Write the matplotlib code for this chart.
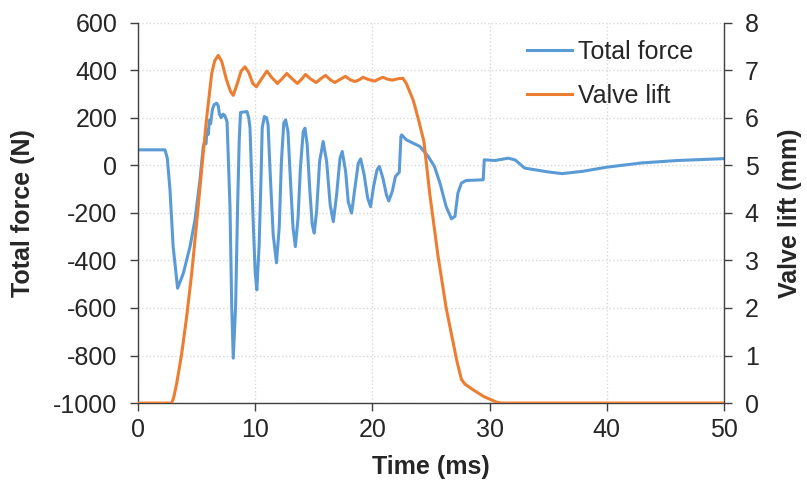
import matplotlib.pyplot as plt

plt.rcParams['font.family'] = ['Liberation Sans', 'DejaVu Sans']
plt.rcParams['axes.unicode_minus'] = False

# Total force (N) vs time (ms)
force_t = [0, 2.3, 2.5, 2.73, 3.0, 3.38, 3.87, 4.44, 4.86, 5.29, 5.57, 5.7, 5.8, 5.9, 6.0, 6.1,
           6.2, 6.35, 6.5, 6.71, 6.85, 6.95, 7.1, 7.25, 7.4, 7.6, 7.85, 8.0, 8.13, 8.33, 8.5,
           8.64, 8.75, 9.3, 9.45, 9.56, 9.7, 9.85, 10.0, 10.14, 10.34, 10.5, 10.6, 10.78,
           10.97, 11.1, 11.3, 11.54, 11.82, 12.05, 12.24, 12.44, 12.6, 12.8, 13.0, 13.23,
           13.43, 13.66, 13.86, 14.1, 14.25, 14.44, 14.67, 14.87, 15.04, 15.24, 15.5, 15.8,
           16.1, 16.4, 16.67, 16.95, 17.24, 17.43, 17.72, 17.94, 18.23, 18.51, 18.8, 19.0,
           19.3, 19.6, 19.85, 20.1, 20.4, 20.6, 20.9, 21.2, 21.4, 21.7, 21.97, 22.3, 22.44,
           22.5, 22.9, 24.06, 24.77, 25.3, 25.77, 26.3, 26.75, 27.05, 27.3, 27.6, 28.0,
           29.46, 29.55, 30.46, 31.6, 32.2, 33.0, 33.9, 35.0, 36.2, 38.0, 40.0, 43.0,
           46.0, 50.0]
force_n = [65, 65, 30, -103, -342, -517, -454, -342, -230, -61, 79, 100, 90, 150, 130, 190,
           175, 235, 255, 261, 250, 215, 200, 215, 210, 184, -174, -594, -811, -594, -174,
           107, 222, 226, 200, 157, -53, -263, -448, -524, -335, -53, 157, 205,
           200, 170, -53, -293, -410, -263, 16, 178, 191, 142, -53, -263,
           -342, -221, -11, 142, 156, 86, -110, -250, -285, -195, 16, 100,
           16, -166, -237, -124, 30, 58, -26, -153, -201, -96, 9, 27,
           -40, -138, -174, -90, -19, -5, -54, -124, -150, -110, -47, -29, 121,
           128, 107, 79, 37, -5, -75, -174, -225, -215, -117, -75, -64,
           -61, 23, 20, 30, 22, -12, -19, -28, -35, -25, -8, 10,
           20, 28]

# Valve lift (mm) vs time (ms)
lift_t = [0, 2.87, 3.05, 3.3, 3.73, 4.15, 4.58, 5.0, 5.43, 5.86, 6.29, 6.55, 6.85, 7.15,
          7.56, 7.9, 8.13, 8.45, 8.8, 9.13, 9.45, 9.8, 10.1, 10.5, 11.0, 11.4, 11.9, 12.3,
          12.7, 13.1, 13.6, 14.0, 14.3, 14.7, 15.2, 15.6, 16.0, 16.4, 16.8, 17.2, 17.7,
          18.1, 18.5, 18.9, 19.2, 19.7, 20.2, 20.6, 20.9, 21.3, 21.7, 22.2, 22.6, 22.9,
          23.5, 24.0, 24.4, 24.9, 25.6, 26.3, 27.2, 27.6, 27.9, 28.6, 29.5, 30.6, 31.0, 50]
lift_mm = [0, 0, 0.12, 0.41, 1.04, 1.81, 2.72, 3.77, 4.9, 6.0, 6.93, 7.2, 7.31, 7.18,
           6.79, 6.55, 6.47, 6.7, 6.98, 7.07, 6.95, 6.72, 6.65, 6.8, 6.98, 6.85, 6.72, 6.82,
           6.93, 6.83, 6.72, 6.82, 6.91, 6.82, 6.74, 6.82, 6.89, 6.8, 6.74, 6.8, 6.87,
           6.8, 6.76, 6.8, 6.85, 6.8, 6.77, 6.82, 6.85, 6.81, 6.79, 6.82, 6.83, 6.72,
           6.36, 5.9, 5.5, 4.4, 3.1, 2.0, 0.9, 0.5, 0.4, 0.28, 0.14, 0.02, 0, 0]

blue = '#5B9BD5'
orange = '#ED7D31'
axis_col = '#404040'
text_col = '#262626'
fs = 18

fig = plt.figure(figsize=(8.07, 4.91), dpi=100)
ax = fig.add_axes([0.171, 0.179, 0.726, 0.775])
ax2 = ax.twinx()

l1, = ax.plot(force_t, force_n, color=blue, lw=2.2, label='Total force')
l2, = ax2.plot(lift_t, lift_mm, color=orange, lw=2.2, label='Valve lift')

ax.set_xlim(0, 50)
ax.set_ylim(-1000, 600)
ax2.set_ylim(0, 8)
ax.set_xticks(range(0, 51, 10))
ax.set_yticks(range(-1000, 601, 200))
ax2.set_yticks(range(0, 9))

ax.grid(True, color='#D9D9D9', ls=':', lw=1.0)
ax.set_axisbelow(True)

for a in (ax, ax2):
    a.spines['top'].set_visible(False)
    for s in ('left', 'right', 'bottom'):
        a.spines[s].set_color(axis_col)
        a.spines[s].set_linewidth(1.0)
    a.tick_params(direction='out', length=6, width=1, color=axis_col,
                  labelsize=fs, labelcolor=text_col, pad=9)
ax.tick_params(axis='x', pad=5)
ax.spines['right'].set_visible(False)
ax2.spines['left'].set_visible(False)
ax2.spines['bottom'].set_visible(False)

ax.set_xlabel('Time (ms)', fontsize=fs, fontweight='bold', color=text_col, va='center')
ax.set_ylabel('Total force (N)', fontsize=fs, fontweight='bold', color=text_col, va='center')
ax2.set_ylabel('Valve lift (mm)', fontsize=fs, fontweight='bold', color=text_col, va='center')
ax.xaxis.set_label_coords(0.5, -0.168)
ax.yaxis.set_label_coords(-0.196, 0.5)
ax2.yaxis.set_label_coords(1.113, 0.5)

ax2.legend(handles=[l1, l2], loc='upper left', bbox_to_anchor=(0.664, 0.955), frameon=False,
           fontsize=fs, handlelength=1.8, handletextpad=0.25, labelspacing=0.8,
           borderpad=0, borderaxespad=0, labelcolor=text_col)

fig.savefig('out.png', dpi=100)
